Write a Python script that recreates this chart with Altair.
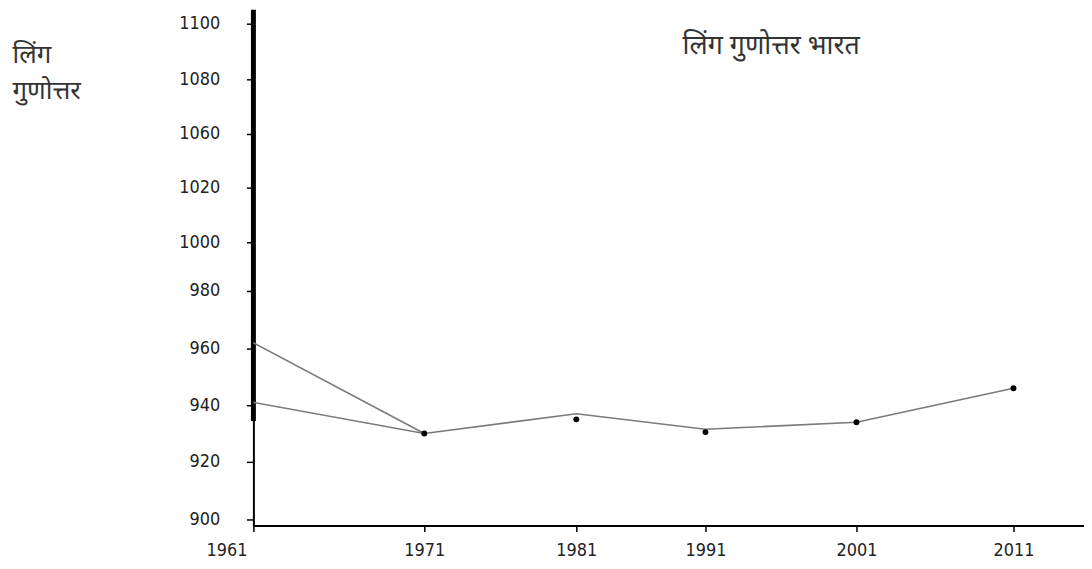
import altair as alt
import pandas as pd

# ---- data ----
years = [1961, 1971, 1981, 1991, 2001, 2011]
line_main = [941, 930, 937, 931.5, 934, 946]
line_start_years = [1961, 1971]
line_start = [962, 930]
dot_years = [1971, 1981, 1991, 2001, 2011]
dot_values = [930, 935, 930.5, 934, 946]

y_tick_values = [900, 920, 940, 960, 980, 1000, 1020, 1040, 1060, 1080]
y_tick_labels = ["900", "920", "940", "960", "980", "1000", "1020", "1060", "1080", "1100"]

title_text = "लिंग गुणोत्तर भारत"
y_title = ["लिंग", "गुणोत्तर"]

# ---- tables ----
df_lines = pd.DataFrame(
    {"year": years + line_start_years,
     "value": line_main + line_start,
     "series": ["a"] * len(years) + ["b"] * len(line_start_years)}
)
df_dots = pd.DataFrame({"year": dot_years, "value": dot_values})
df_axis = pd.DataFrame({"year": [1961], "value": [934.4], "hi": [1085]})

NUM_FONT = "DejaVu Sans Condensed, Liberation Sans, sans-serif"
DEV_FONT = "Noto Sans"

# piecewise scales to follow the reference's uneven spacing
x_scale = alt.Scale(domain=[1961, 1971, 1981, 1991, 2001, 2011, 2016],
                    range=[0, 172, 325, 455, 607, 765, 836], nice=False, zero=False)
y_scale = alt.Scale(domain=[898, 900, 920, 940, 960, 980, 1000, 1020, 1040, 1060, 1080, 1085],
                    range=[519, 513, 455, 398, 341, 283, 234, 179, 125, 70, 14, 0],
                    nice=False, zero=False)

vals_str = "[" + ",".join(str(v) for v in y_tick_values) + "]"
labs_str = "[" + ",".join("'" + s + "'" for s in y_tick_labels) + "]"
label_expr = f"{labs_str}[indexof({vals_str}, datum.value)]"

x_axis = alt.Axis(
    values=years, format="d", title=None, grid=False, labelFlush=False,
    domainColor="black", domainWidth=2, tickColor="black", tickWidth=1.5, tickSize=6,
    labelFont=NUM_FONT, labelFontSize=18, labelColor="#222", labelPadding=10,
    labelOffset={"condition": {"test": "datum.value == 1961", "value": -27}, "value": 0},
)
y_axis = alt.Axis(
    values=y_tick_values, labelExpr=label_expr, grid=False,
    domainColor="black", domainWidth=2, tickColor="black", tickWidth=1.5, tickSize=7,
    labelFont=NUM_FONT, labelFontSize=18, labelColor="#222", labelPadding=27,
    title=y_title, titleAngle=0, titleAlign="left", titleBaseline="middle",
    titleX=-243, titleY=45, titleLineHeight=36, titleFont=DEV_FONT,
    titleFontSize=26, titleFontWeight="normal", titleColor="#333",
)

x_enc = alt.X("year:Q", scale=x_scale, axis=x_axis)
y_enc = alt.Y("value:Q", scale=y_scale, axis=y_axis)

thick_axis = alt.Chart(df_axis).mark_rule(color="black", strokeWidth=5).encode(
    x=x_enc, y=y_enc, y2="hi:Q"
)
lines = alt.Chart(df_lines).mark_line(color="#7a7a7a", strokeWidth=1.6).encode(
    x=x_enc, y=y_enc, detail="series:N"
)
dots = alt.Chart(df_dots).mark_circle(color="black", size=36, opacity=1).encode(
    x=x_enc, y=y_enc
)

chart = (
    alt.layer(thick_axis, lines, dots)
    .properties(
        width=836, height=519,
        background="white",
        padding={"left": 247, "top": 0, "right": 0, "bottom": 34},
        autosize=alt.AutoSizeParams(type="none"),
        title=alt.TitleParams(
            title_text, anchor="start", frame="group", dx=432, dy=53, offset=0,
            font=DEV_FONT, fontSize=27, fontWeight="normal", color="#333",
        ),
    )
    .configure_view(strokeWidth=0, stroke="transparent")
    .configure_axis(grid=False)
)

chart.save("out.html", embed_options={"renderer": "svg", "actions": False})
